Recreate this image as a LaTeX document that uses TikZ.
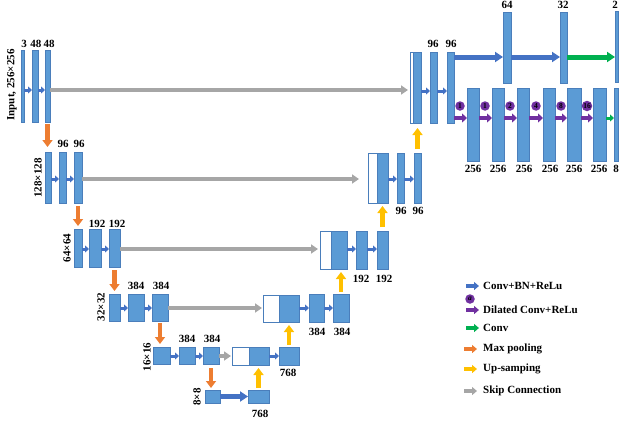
\documentclass[tikz,border=0pt]{standalone}
\usepackage{fontspec}
\setmainfont{Liberation Serif}
\usetikzlibrary{arrows.meta}
\definecolor{blkfill}{HTML}{5B9BD5}
\definecolor{blkline}{HTML}{4A7EBB}
\definecolor{arrblue}{HTML}{4472C4}
\definecolor{arrgray}{HTML}{A6A6A6}
\definecolor{arrorange}{HTML}{ED7D31}
\definecolor{arryellow}{HTML}{FFC000}
\definecolor{arrgreen}{HTML}{00B050}
\definecolor{arrpurple}{HTML}{7030A0}
\tikzset{
 blk/.style={draw=blkline, fill=blkfill, line width=0.5pt, inner sep=0pt, outer sep=0pt},
 wbox/.style={draw=blkline, fill=white, line width=0.5pt, inner sep=0pt, outer sep=0pt},
 num/.style={font=\fontsize{11}{12}\selectfont\bfseries, inner sep=0pt, anchor=base},
 dimlab/.style={font=\fontsize{11}{12}\selectfont\bfseries, rotate=90, inner sep=0pt},
 sarr/.style={draw=arrblue, line width=3pt, -{Triangle[length=4pt,width=7pt]}},
 larr/.style={draw=arrblue, line width=5pt, -{Triangle[length=8pt,width=10pt]}},
 garr/.style={draw=arrgray, line width=3.5pt, -{Triangle[length=7pt,width=9pt]}},
 oarr/.style={draw=arrorange, line width=4.5pt, -{Triangle[length=7pt,width=10pt]}},
 yarr/.style={draw=arryellow, line width=4.5pt, -{Triangle[length=7pt,width=10pt]}},
 grarr/.style={draw=arrgreen, line width=5pt, -{Triangle[length=8pt,width=10pt]}},
 sgrarr/.style={draw=arrgreen, line width=3pt, -{Triangle[length=4pt,width=7pt]}},
 parr/.style={draw=arrpurple, line width=4.5pt, -{Triangle[length=5pt,width=9pt]}},
 pc/.style={circle, fill=arrpurple, minimum size=9.5pt, inner sep=0pt, font=\fontsize{7.5}{8}\selectfont\bfseries},
 lab/.style={font=\fontsize{11}{12}\selectfont\bfseries, anchor=west, inner sep=0pt},
 lgs/.style={line width=4pt, -{Triangle[length=5pt,width=8pt]}},
}
\newcommand{\mkblk}[6][blk]{\node[#1, minimum width={(#5-#3)*1pt}, minimum height={(#6-#4)*1pt}] (#2) at ({(#3+#5)/2},{(#4+#6)/2}) {};}
\begin{document}
\begin{tikzpicture}[x=1pt,y=-1pt]
\useasboundingbox (0,0) rectangle (640,442);
% row coordinates
\coordinate (r1) at (0,90);
\coordinate (r2) at (0,179);
\coordinate (r3) at (0,249);
\coordinate (r4) at (0,308);
\coordinate (r5) at (0,356);
\coordinate (r6) at (0,397);
\coordinate (rd1) at (0,91);
\coordinate (rtop) at (0,57);
\coordinate (rbot) at (0,118);
% encoder
\mkblk{e1a}{21}{50}{24}{122}
\mkblk{e1b}{32}{50}{38}{122}
\mkblk{e1c}{45}{50}{50}{122}
\mkblk{e2a}{45}{152}{51}{203}
\mkblk{e2b}{59}{152}{66}{203}
\mkblk{e2c}{74}{152}{82}{203}
\mkblk{e3a}{74}{229}{82}{267}
\mkblk{e3b}{89}{229}{101}{267}
\mkblk{e3c}{109}{229}{120}{267}
\mkblk{e4a}{109}{294}{120}{321}
\mkblk{e4b}{128}{294}{144}{321}
\mkblk{e4c}{152}{294}{168}{321}
\mkblk{e5a}{153}{347}{170}{364}
\mkblk{e5b}{179}{347}{195}{364}
\mkblk{e5c}{203}{347}{219}{364}
\mkblk{e6a}{205}{390}{220}{403}
\mkblk{e6b}{248}{390}{269}{403}
% decoder
\mkblk[wbox]{d5w}{232}{347}{249}{365}
\mkblk{d5a}{249}{347}{269}{365}
\mkblk{d5b}{279}{347}{299}{365}
\mkblk[wbox]{d4w}{263}{295}{279}{322}
\mkblk{d4a}{279}{295}{299}{322}
\mkblk{d4b}{309}{294}{324}{322}
\mkblk{d4c}{333}{294}{349}{322}
\mkblk[wbox]{d3w}{320}{231}{331}{269}
\mkblk{d3a}{331}{231}{347}{269}
\mkblk{d3b}{356}{231}{367}{269}
\mkblk{d3c}{377}{231}{388}{269}
\mkblk[wbox]{d2w}{368}{153}{377}{203}
\mkblk{d2a}{377}{153}{388}{203}
\mkblk{d2b}{397}{153}{404}{203}
\mkblk{d2c}{414}{153}{421}{203}
\mkblk[wbox]{d1w}{410}{52}{413}{123}
\mkblk{d1a}{413}{52}{421}{123}
\mkblk{d1b}{430}{52}{437}{123}
\mkblk{d1c}{447}{52}{454}{123}
% top branch
\mkblk{t1}{503}{12}{511}{83}
\mkblk{t2}{560}{12}{567}{83}
\mkblk{t3}{615}{11}{618}{82}
% bottom branch
\mkblk{b1}{467}{88}{479}{161}
\mkblk{b2}{492}{88}{504}{161}
\mkblk{b3}{517}{88}{529}{161}
\mkblk{b4}{543}{88}{555}{161}
\mkblk{b5}{567}{88}{581}{161}
\mkblk{b6}{593}{88}{606}{161}
\mkblk{b7}{614}{88}{618}{161}
% encoder arrows
\draw[sarr] (e1a.east |- r1) -- (e1b.west |- r1);
\draw[sarr] (e1b.east |- r1) -- (e1c.west |- r1);
\draw[garr, shorten >=2pt] (e1c.east |- r1) -- (d1w.west |- r1);
\draw[oarr, shorten <=2pt, shorten >=5pt] (e1c.south) -- (e1c.south |- e2a.north);
\draw[sarr] (e2a.east |- r2) -- (e2b.west |- r2);
\draw[sarr] (e2b.east |- r2) -- (e2c.west |- r2);
\draw[garr, shorten >=9pt] (e2c.east |- r2) -- (d2w.west |- r2);
\draw[oarr, shorten <=3pt, shorten >=3pt] (e2c.south) -- (e2c.south |- e3a.north);
\draw[sarr] (e3a.east |- r3) -- (e3b.west |- r3);
\draw[sarr] (e3b.east |- r3) -- (e3c.west |- r3);
\draw[garr, shorten >=2pt] (e3c.east |- r3) -- (d3w.west |- r3);
\draw[oarr, shorten <=3pt, shorten >=3pt] (e3c.south) -- (e3c.south |- e4a.north);
\draw[sarr] (e4a.east |- r4) -- (e4b.west |- r4);
\draw[sarr] (e4b.east |- r4) -- (e4c.west |- r4);
\draw[garr, shorten >=1pt] (e4c.east |- r4) -- (d4w.west |- r4);
\draw[oarr, shorten <=2pt, shorten >=3pt] (e4c.south) -- (e4c.south |- e5a.north);
\draw[sarr] (e5a.east |- r5) -- (e5b.west |- r5);
\draw[sarr] (e5b.east |- r5) -- (e5c.west |- r5);
\draw[garr, shorten >=1pt] (e5c.east |- r5) -- (d5w.west |- r5);
\draw[oarr, shorten <=4pt, shorten >=2pt] (e5c.south) -- (e5c.south |- e6a.north);
\draw[larr] (e6a.east) -- (e6b.west);
% decoder arrows
\draw[yarr, shorten <=2pt, shorten >=3pt] (e6b.north) -- (e6b.north |- d5a.south);
\draw[sarr] (d5a.east |- r5) -- (d5b.west |- r5);
\draw[yarr, shorten <=2pt, shorten >=3pt] (d5b.north) -- (d5b.north |- d4a.south);
\draw[sarr] (d4a.east |- r4) -- (d4b.west |- r4);
\draw[sarr] (d4b.east |- r4) -- (d4c.west |- r4);
\draw[yarr, shorten <=2pt, shorten >=3pt] (d4c.north) -- (d4c.north |- d3a.south);
\draw[sarr] (d3a.east |- r3) -- (d3b.west |- r3);
\draw[sarr] (d3b.east |- r3) -- (d3c.west |- r3);
\draw[yarr, shorten <=4pt, shorten >=3pt] (d3c.north) -- (d3c.north |- d2a.south);
\draw[sarr] (d2a.east |- r2) -- (d2b.west |- r2);
\draw[sarr] (d2b.east |- r2) -- (d2c.west |- r2);
\draw[yarr, shorten <=4pt, shorten >=5pt] (d2c.north) -- (d2c.north |- d1a.south);
\draw[sarr] (d1a.east |- rd1) -- (d1b.west |- rd1);
\draw[sarr] (d1b.east |- rd1) -- (d1c.west |- rd1);
% top branch
\draw[larr] (d1c.east |- rtop) -- (t1.west |- rtop);
\draw[larr] (t1.east |- rtop) -- (t2.west |- rtop);
\draw[grarr] (t2.east |- rtop) -- (t3.west |- rtop);
% bottom branch
\draw[parr] (d1c.east |- rbot) -- (b1.west |- rbot);
\draw[parr] (b1.east |- rbot) -- (b2.west |- rbot);
\draw[parr] (b2.east |- rbot) -- (b3.west |- rbot);
\draw[parr] (b3.east |- rbot) -- (b4.west |- rbot);
\draw[parr] (b4.east |- rbot) -- (b5.west |- rbot);
\draw[parr] (b5.east |- rbot) -- (b6.west |- rbot);
\draw[sgrarr] (b6.east |- rbot) -- (b7.west |- rbot);
\node[pc] (c1) at (460,106) {1};
\node[pc] (c2) at (485,106) {1};
\node[pc] (c3) at (510,106) {2};
\node[pc] (c4) at (536,106) {4};
\node[pc] (c5) at (561,106) {8};
\node[pc, minimum size=10.5pt] (c6) at (587,106) {16};
% labels
\node[num] (n1) at (24,47) {3};
\node[num] (n2) at (36,47) {48};
\node[num] (n3) at (49,47) {48};
\node[num] (n4) at (63,147) {96};
\node[num] (n5) at (79,147) {96};
\node[num] (n6) at (97,227) {192};
\node[num] (n7) at (117,227) {192};
\node[num] (n8) at (136,289) {384};
\node[num] (n9) at (161,289) {384};
\node[num] (n10) at (187,342) {384};
\node[num] (n11) at (212,342) {384};
\node[num] (n12) at (260,417) {768};
\node[num] (n13) at (288,376) {768};
\node[num] (n14) at (317,335) {384};
\node[num] (n15) at (342,335) {384};
\node[num] (n16) at (361,282) {192};
\node[num] (n17) at (384,282) {192};
\node[num] (n18) at (401,214) {96};
\node[num] (n19) at (418,214) {96};
\node[num] (n20) at (433,47) {96};
\node[num] (n21) at (451,47) {96};
\node[num] (n22) at (507,8) {64};
\node[num] (n23) at (563,8) {32};
\node[num] (n24) at (615,8) {2};
\node[num] (n25) at (473,172) {256};
\node[num] (n26) at (498,172) {256};
\node[num] (n27) at (524,172) {256};
\node[num] (n28) at (550,172) {256};
\node[num] (n29) at (574,172) {256};
\node[num] (n30) at (599,172) {256};
\node[num] (n31) at (616,172) {8};
% dimension labels
\node[dimlab] (m1) at (12,85) {Input, 256×256};
\node[dimlab] (m2) at (38,178) {128×128};
\node[dimlab] (m3) at (67,248) {64×64};
\node[dimlab] (m4) at (101,307) {32×32};
\node[dimlab] (m5) at (147,357) {16×16};
\node[dimlab] (m6) at (197,397) {8×8};
% legend
\node[lab] (lt1) at (483,286) {Conv+BN+ReLu};
\node[lab] (lt2) at (483,310) {Dilated Conv+ReLu};
\node[lab] (lt3) at (483,328) {Conv};
\node[lab] (lt4) at (483,349) {Max pooling};
\node[lab] (lt5) at (483,369) {Up-samping};
\node[lab] (lt6) at (483,391) {Skip Connection};
\draw[lgs, draw=arrblue] ([xshift=-17pt]lt1.west) -- ([xshift=-4pt]lt1.west);
\draw[lgs, draw=arrpurple] ([xshift=-17pt]lt2.west) -- ([xshift=-4pt]lt2.west);
\node[pc, font=\fontsize{7.5}{8}\selectfont\bfseries\itshape] (lc) at (470,299) {a};
\draw[lgs, draw=arrgreen] ([xshift=-17pt]lt3.west) -- ([xshift=-4pt]lt3.west);
\draw[lgs, draw=arrorange] ([xshift=-19pt]lt4.west) -- ([xshift=-6pt]lt4.west);
\draw[lgs, draw=arryellow] ([xshift=-19pt]lt5.west) -- ([xshift=-6pt]lt5.west);
\draw[lgs, draw=arrgray] ([xshift=-19pt]lt6.west) -- ([xshift=-6pt]lt6.west);
\end{tikzpicture}
\end{document}
